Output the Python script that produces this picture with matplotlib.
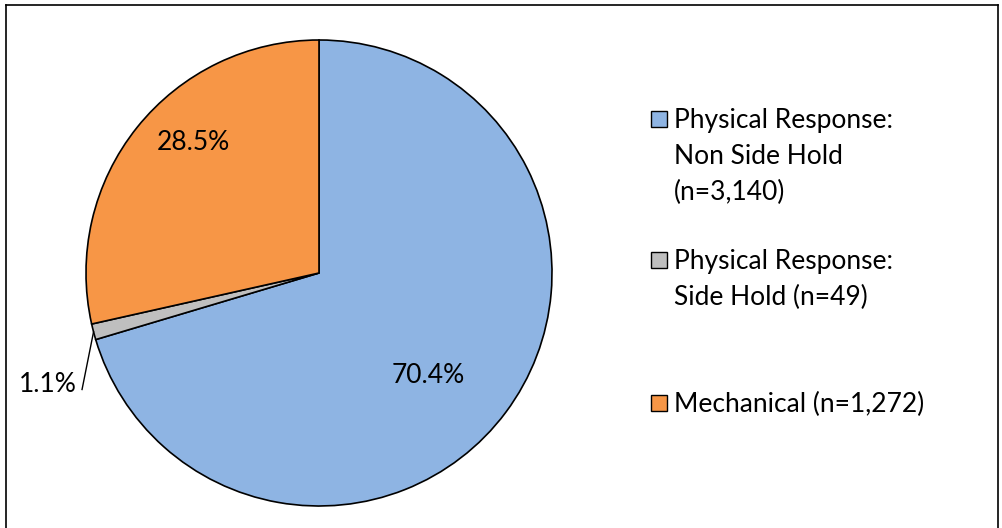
import numpy as np
import matplotlib
matplotlib.use("Agg")
import matplotlib.pyplot as plt
from matplotlib.patches import Rectangle
from matplotlib.lines import Line2D

plt.rcParams["font.family"] = ["Lato", "DejaVu Sans"]

labels = ["Physical Response:\nNon Side Hold\n(n=3,140)",
          "Physical Response:\nSide Hold (n=49)",
          "Mechanical (n=1,272)"]
counts = [3140, 49, 1272]
colors = ["#8EB4E3", "#BFBFBF", "#F79646"]

W, H = 1002, 528
fig = plt.figure(figsize=(W / 100, H / 100), dpi=100)
fig.patch.set_facecolor("white")

# frame around the chart (bottom edge falls outside the image)
fig.add_artist(Line2D([6 / W, 6 / W], [0, 1 - 5 / H], color="black", lw=1.2, transform=fig.transFigure))
fig.add_artist(Line2D([6 / W, 998 / W], [1 - 5 / H, 1 - 5 / H], color="black", lw=1.2, transform=fig.transFigure))
fig.add_artist(Line2D([998 / W, 998 / W], [0, 1 - 5 / H], color="black", lw=1.2, transform=fig.transFigure))

cx, cy, r = 319, 273, 233
ax = fig.add_axes([(cx - r) / W, (H - cy - r) / H, 2 * r / W, 2 * r / H])
wedges, _ = ax.pie(counts, colors=colors, startangle=90, counterclock=False,
                   wedgeprops=dict(edgecolor="black", linewidth=1.2))
ax.set_xlim(-1, 1)
ax.set_ylim(-1, 1)
ax.set_aspect("equal")
ax.axis("off")

total = sum(counts)
pcts = [f"{100 * c / total:.1f}%" for c in counts]
fs = 19

# percentage labels
ax.text(0.47, -0.44, pcts[0], ha="center", va="center", fontsize=fs)
ax.text(-0.54, 0.56, pcts[2], ha="center", va="center", fontsize=fs)

g = wedges[1]
mid = np.deg2rad((g.theta1 + g.theta2) / 2)
x0, y0 = np.cos(mid), np.sin(mid)
ax.plot([x0, -1.017], [y0, -0.50], color="black", lw=1.0, clip_on=False)
ax.text(-1.04, -0.48, pcts[1], ha="right", va="center", fontsize=fs, clip_on=False)

# legend
entries_y = [119, 260, 403]
for lab, col, yy in zip(labels, colors, entries_y):
    fig.add_artist(Rectangle((651 / W, 1 - (yy + 8) / H), 16 / W, 16 / H,
                             facecolor=col, edgecolor="black", lw=1.0,
                             transform=fig.transFigure))
    fig.text(674 / W, 1 - (yy - 11) / H, lab, ha="left", va="top",
             fontsize=19, linespacing=1.55)

fig.savefig("out.png", dpi=100)
